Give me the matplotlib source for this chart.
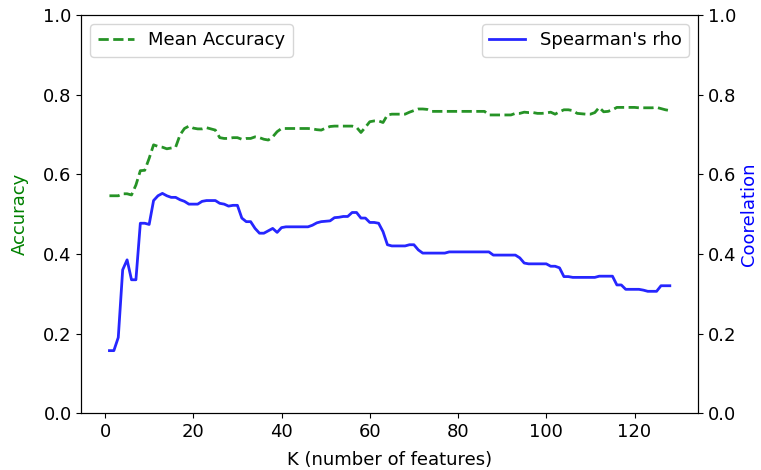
import numpy as np
import matplotlib
matplotlib.use("Agg")
import matplotlib.pyplot as plt

plt.rcParams['font.size'] = 13

# K = number of features
k = np.arange(1, 129)

# mean accuracy (left axis)
acc = [0.546, 0.546, 0.546, 0.551, 0.551, 0.548, 0.573, 0.609, 0.610, 0.640,
       0.674, 0.670, 0.668, 0.664, 0.666, 0.668, 0.699, 0.715, 0.721, 0.716,
       0.714, 0.714, 0.717, 0.714, 0.711, 0.692, 0.690, 0.690, 0.692, 0.692,
       0.688, 0.690, 0.690, 0.694, 0.692, 0.688, 0.686, 0.694, 0.707, 0.715,
       0.715, 0.715, 0.715, 0.715, 0.715, 0.715, 0.714, 0.712, 0.711, 0.716,
       0.720, 0.721, 0.721, 0.721, 0.721, 0.721, 0.718, 0.705, 0.718, 0.732,
       0.734, 0.734, 0.730, 0.749, 0.751, 0.751, 0.751, 0.751, 0.756, 0.760,
       0.764, 0.764, 0.763, 0.758, 0.758, 0.758, 0.758, 0.758, 0.758, 0.758,
       0.758, 0.758, 0.758, 0.758, 0.758, 0.758, 0.749, 0.749, 0.749, 0.749,
       0.749, 0.749, 0.753, 0.753, 0.756, 0.755, 0.755, 0.753, 0.753, 0.754,
       0.756, 0.751, 0.757, 0.762, 0.762, 0.760, 0.753, 0.752, 0.751, 0.751,
       0.755, 0.768, 0.757, 0.758, 0.762, 0.768, 0.768, 0.768, 0.768, 0.768,
       0.767, 0.767, 0.767, 0.767, 0.768, 0.765, 0.762, 0.760]

# spearman's rho (right axis)
rho = [0.157, 0.157, 0.190, 0.360, 0.385, 0.335, 0.335, 0.477, 0.477, 0.474,
       0.534, 0.546, 0.552, 0.546, 0.542, 0.542, 0.536, 0.532, 0.525, 0.525,
       0.525, 0.532, 0.534, 0.534, 0.534, 0.527, 0.525, 0.520, 0.522, 0.522,
       0.490, 0.481, 0.481, 0.464, 0.452, 0.452, 0.458, 0.464, 0.454, 0.466,
       0.468, 0.468, 0.468, 0.468, 0.468, 0.468, 0.472, 0.478, 0.481, 0.482,
       0.483, 0.491, 0.492, 0.494, 0.494, 0.504, 0.504, 0.490, 0.490, 0.479,
       0.479, 0.477, 0.456, 0.423, 0.420, 0.420, 0.420, 0.420, 0.423, 0.423,
       0.410, 0.402, 0.402, 0.402, 0.402, 0.402, 0.402, 0.405, 0.405, 0.405,
       0.405, 0.405, 0.405, 0.405, 0.405, 0.405, 0.405, 0.397, 0.397, 0.397,
       0.397, 0.397, 0.397, 0.390, 0.377, 0.375, 0.375, 0.375, 0.375, 0.375,
       0.369, 0.369, 0.365, 0.343, 0.343, 0.341, 0.341, 0.341, 0.341, 0.341,
       0.341, 0.344, 0.344, 0.344, 0.344, 0.322, 0.322, 0.311, 0.311, 0.311,
       0.311, 0.309, 0.306, 0.306, 0.306, 0.320, 0.320, 0.320]

fig = plt.figure(figsize=(7.61, 4.70), dpi=100)
ax1 = fig.add_axes([0.107, 0.121, 0.810, 0.847])
ax2 = ax1.twinx()

ax1.plot(k, acc, '--', color='g', lw=2, alpha=0.85, label='Mean Accuracy')
ax2.plot(k, rho, '-', color='b', lw=2, alpha=0.85, label="Spearman's rho")

ax1.set_ylim(0, 1)
ax2.set_ylim(0, 1)
ax1.set_xlabel('K (number of features)', labelpad=7)
ax1.set_ylabel('Accuracy', color='g', labelpad=10)
ax2.set_ylabel('Coorelation', color='b', labelpad=3)

ax1.legend(loc='upper left')
ax2.legend(loc='upper right')

fig.savefig('out.png', dpi=100)
